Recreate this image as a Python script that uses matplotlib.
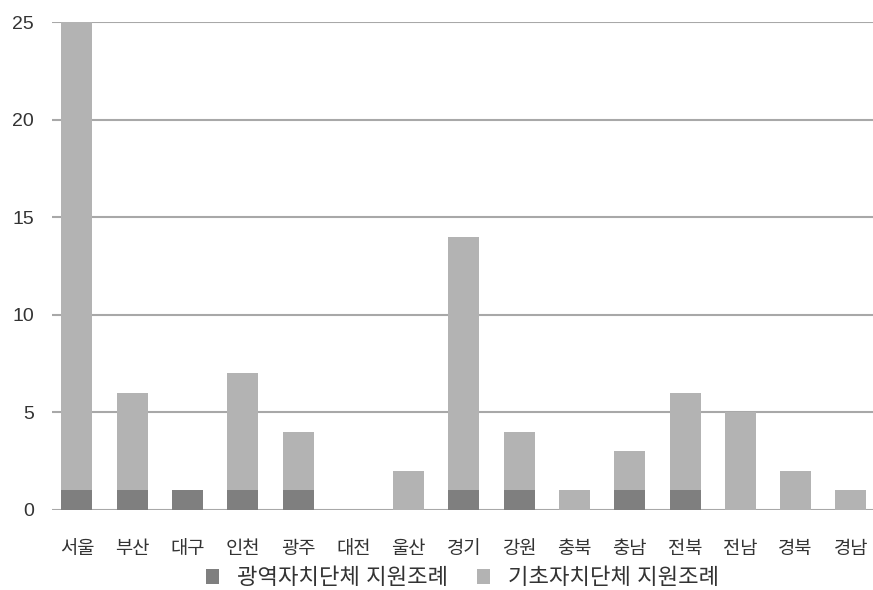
import numpy as np
import matplotlib.pyplot as plt

plt.rcParams['font.family'] = ['Liberation Sans', 'Noto Sans CJK KR', 'DejaVu Sans']

regions = ['서울', '부산', '대구', '인천', '광주', '대전', '울산', '경기',
           '강원', '충북', '충남', '전북', '전남', '경북', '경남']
metro = [1, 1, 1, 1, 1, 0, 0, 1, 1, 0, 1, 1, 0, 0, 0]
local = [24, 5, 0, 6, 3, 0, 2, 13, 3, 1, 2, 5, 5, 2, 1]
yticks = [0, 5, 10, 15, 20, 25]

fig = plt.figure(figsize=(8.73, 5.9), dpi=100)
ax = fig.add_axes([0.0596, 0.1356, 0.9404, 0.8271])

x = np.arange(len(regions))
ax.bar(x, metro, width=0.56, color='#7f7f7f', label='광역자치단체 지원조례', zorder=3)
ax.bar(x, local, width=0.56, bottom=metro, color='#b3b3b3',
       label='기초자치단체 지원조례', zorder=3)

ax.set_xlim(-0.45, 14.4)
ax.set_ylim(0, 25)
ax.set_yticks(yticks)
ax.yaxis.grid(True, color='#a8a8a8', linewidth=1.5, zorder=0)
ax.set_axisbelow(True)
for s in ax.spines.values():
    s.set_visible(False)
ax.tick_params(length=0)
ax.tick_params(axis='y', labelsize=14, pad=13, colors='#333333')
ax.set_xticks(x)
ax.set_xticklabels(regions, fontsize=13.5, color='#333333')
ax.tick_params(axis='x', pad=22)

ax.legend(loc='center', bbox_to_anchor=(0.53, 0.019), bbox_transform=fig.transFigure,
          ncol=2, frameon=False, fontsize=16, handlelength=0.6, handleheight=0.6,
          handletextpad=0.8, columnspacing=1.3, labelcolor='#333333',
          borderpad=0, borderaxespad=0)

fig.savefig('out.png', dpi=100)
plt.close()
